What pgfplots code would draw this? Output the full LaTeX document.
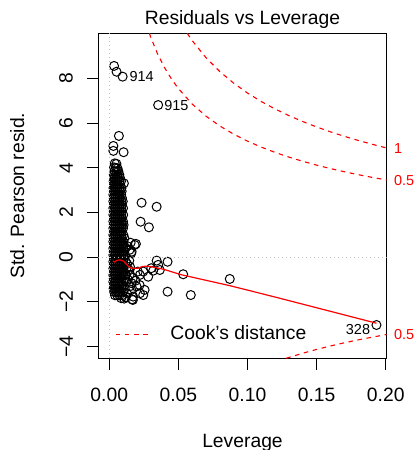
\documentclass[border=0pt]{standalone}
\usepackage{fontspec}
\setmainfont{Liberation Sans}
\usepackage{pgfplots}
\pgfplotsset{compat=1.18}
\usepackage{pgfplotstable}
\definecolor{rgray}{HTML}{BEBEBE}
\definecolor{rred}{HTML}{FF0000}

% standardized Pearson residuals vs leverage
\pgfplotstableread{
x y
0.0035 8.56
0.0053 8.30
0.0097 8.08
0.0354 6.81
0.0070 5.43
0.0030 4.98
0.0030 4.76
0.0104 4.70
0.0106 3.31
0.0087 3.09
0.0234 2.44
0.0343 2.26
0.0227 1.59
0.0287 1.34
0.0193 0.60
0.0155 0.65
0.0184 0.55
0.0147 0.33
0.0162 0.25
0.0159 0.18
0.0343 -0.15
0.0422 -0.20
0.0354 -0.34
0.0366 -0.57
0.0318 -0.60
0.0535 -0.76
0.0872 -0.97
0.0422 -1.54
0.0590 -1.69
0.0246 -1.69
0.0222 -1.61
0.0166 -1.88
0.1933 -3.03
0.0246 -0.64
0.0222 -0.79
0.0282 -0.87
0.0304 -0.49
0.0150 -0.42
0.0162 -1.16
0.0198 -1.31
0.0173 -1.76
0.0159 -1.46
0.0256 -1.46
0.0220 -1.24
0.0147 -0.79
0.0207 -0.64
0.0087 -1.83
0.0171 -1.91
0.0130 -0.30
0.0140 -0.55
0.0135 -1.00
0.0150 -1.30
0.0128 -1.60
0.0120 -1.78
0.0108 -1.85
0.0145 -0.15
0.0130 0.50
0.0172 -0.92
0.0190 -1.05
0.0040 4.20
0.0052 4.18
0.0035 4.02
0.0048 4.00
0.0060 3.98
0.0038 3.85
0.0052 3.85
0.0066 3.85
0.0033 3.70
0.0047 3.70
0.0061 3.70
0.0073 3.70
0.0036 3.55
0.0050 3.55
0.0064 3.55
0.0078 3.55
0.0032 3.40
0.0046 3.40
0.0060 3.40
0.0074 3.40
0.0085 3.40
0.0035 3.25
0.0049 3.25
0.0063 3.25
0.0077 3.25
0.0031 3.10
0.0045 3.10
0.0059 3.10
0.0073 3.10
0.0088 3.10
0.0034 2.95
0.0048 2.95
0.0062 2.95
0.0076 2.95
0.0090 2.95
0.0030 2.80
0.0044 2.80
0.0058 2.80
0.0072 2.80
0.0086 2.80
0.0033 2.65
0.0047 2.65
0.0061 2.65
0.0075 2.65
0.0092 2.65
0.0030 2.50
0.0044 2.50
0.0058 2.50
0.0072 2.50
0.0086 2.50
0.0098 2.50
0.0034 2.35
0.0048 2.35
0.0062 2.35
0.0076 2.35
0.0090 2.35
0.0030 2.20
0.0044 2.20
0.0058 2.20
0.0072 2.20
0.0086 2.20
0.0100 2.20
0.0033 2.05
0.0047 2.05
0.0061 2.05
0.0075 2.05
0.0089 2.05
0.0030 1.90
0.0044 1.90
0.0058 1.90
0.0072 1.90
0.0086 1.90
0.0101 1.90
0.0034 1.75
0.0048 1.75
0.0062 1.75
0.0076 1.75
0.0090 1.75
0.0030 1.60
0.0044 1.60
0.0058 1.60
0.0072 1.60
0.0086 1.60
0.0100 1.60
0.0033 1.45
0.0047 1.45
0.0061 1.45
0.0075 1.45
0.0089 1.45
0.0104 1.45
0.0030 1.30
0.0044 1.30
0.0058 1.30
0.0072 1.30
0.0086 1.30
0.0100 1.30
0.0034 1.15
0.0048 1.15
0.0062 1.15
0.0076 1.15
0.0090 1.15
0.0030 1.00
0.0044 1.00
0.0058 1.00
0.0072 1.00
0.0086 1.00
0.0102 1.00
0.0033 0.85
0.0047 0.85
0.0061 0.85
0.0075 0.85
0.0089 0.85
0.0110 0.85
0.0030 0.70
0.0044 0.70
0.0058 0.70
0.0072 0.70
0.0086 0.70
0.0100 0.70
0.0034 0.55
0.0048 0.55
0.0062 0.55
0.0076 0.55
0.0090 0.55
0.0106 0.55
0.0030 0.40
0.0044 0.40
0.0058 0.40
0.0072 0.40
0.0086 0.40
0.0100 0.40
0.0118 0.40
0.0033 0.25
0.0047 0.25
0.0061 0.25
0.0075 0.25
0.0089 0.25
0.0104 0.25
0.0030 0.10
0.0044 0.10
0.0058 0.10
0.0072 0.10
0.0086 0.10
0.0100 0.10
0.0115 0.10
0.0034 -0.05
0.0048 -0.05
0.0062 -0.05
0.0076 -0.05
0.0090 -0.05
0.0106 -0.05
0.0030 -0.20
0.0044 -0.20
0.0058 -0.20
0.0072 -0.20
0.0086 -0.20
0.0100 -0.20
0.0120 -0.20
0.0033 -0.35
0.0047 -0.35
0.0061 -0.35
0.0075 -0.35
0.0089 -0.35
0.0105 -0.35
0.0030 -0.50
0.0044 -0.50
0.0058 -0.50
0.0072 -0.50
0.0086 -0.50
0.0100 -0.50
0.0125 -0.50
0.0034 -0.65
0.0048 -0.65
0.0062 -0.65
0.0076 -0.65
0.0090 -0.65
0.0108 -0.65
0.0030 -0.80
0.0044 -0.80
0.0058 -0.80
0.0072 -0.80
0.0086 -0.80
0.0100 -0.80
0.0120 -0.80
0.0033 -0.95
0.0047 -0.95
0.0061 -0.95
0.0075 -0.95
0.0089 -0.95
0.0110 -0.95
0.0030 -1.10
0.0044 -1.10
0.0058 -1.10
0.0072 -1.10
0.0086 -1.10
0.0102 -1.10
0.0125 -1.10
0.0034 -1.25
0.0048 -1.25
0.0062 -1.25
0.0076 -1.25
0.0092 -1.25
0.0032 -1.40
0.0046 -1.40
0.0060 -1.40
0.0074 -1.40
0.0090 -1.40
0.0112 -1.40
0.0036 -1.55
0.0050 -1.55
0.0064 -1.55
0.0080 -1.55
0.0100 -1.55
0.0042 -1.70
0.0058 -1.70
0.0074 -1.70
0.0095 -1.70
}\respts

\begin{document}
\fontsize{9.65bp}{11bp}\selectfont
\begin{tikzpicture}
\begin{axis}[
  scale only axis,
  width=144.2bp, height=162.5bp,
  xmin=-0.0079, xmax=0.2007, ymin=-4.52, ymax=10.02,
  axis line style={line width=0.5bp},
  every tick/.style={black, line width=0.5bp},
  tick align=outside, major tick length=5.8bp,
  xtick pos=left, ytick pos=left,
  xtick={0,0.05,0.1,0.15,0.2},
  xticklabels={0.00,0.05,0.10,0.15,0.20},
  ytick={-4,-2,0,2,4,6,8},
  yticklabels={−4,−2,0,2,4,6,8},
  tick label style={inner sep=0pt},
  xticklabel style={anchor=north},
  xticklabel shift=9bp,
  yticklabel style={rotate=90, anchor=south},
  yticklabel shift=6.7bp,
  title={Residuals vs Leverage},
  every axis title/.style={at={(axis description cs:0.5,1)}, anchor=base, yshift=4.15bp, inner sep=0pt},
  xlabel={Leverage},
  xlabel style={at={(axis description cs:0.5,0)}, anchor=base, yshift=-44.35bp, inner sep=0pt},
  ylabel={Std. Pearson resid.},
  ylabel style={at={(axis description cs:-0.2576,0.5)}, rotate=0, anchor=base, inner sep=0pt},
  clip mode=individual,
  legend style={at={(axis description cs:0.0579,0.0738)}, anchor=west, draw=none, fill=none,
    inner sep=0pt, outer sep=0pt, column sep=9.65bp, nodes={inner sep=0pt}},
  legend cell align=left,
  legend image code/.code={\draw[#1] (0bp,0bp) -- (17.5bp,0bp);},
]
\addplot[only marks, mark=o, mark size=2.25bp, line width=0.5bp, black, forget plot] table[x=x,y=y] {\respts};
% smoother
\addplot[rred, line width=0.6bp, forget plot] coordinates {
(0.0027,-0.18) (0.0040,-0.21) (0.0050,-0.16) (0.0060,-0.13) (0.0080,-0.12) (0.0105,-0.18)
(0.0135,-0.38) (0.0160,-0.49) (0.0210,-0.49) (0.0240,-0.41) (0.0280,-0.40) (0.0330,-0.45)
(0.0400,-0.55) (0.0520,-0.78) (0.0872,-1.27) (0.1200,-1.78) (0.1933,-2.95)};
% reference lines
\addplot[rgray, line width=0.5bp, dash pattern=on 0.5bp off 1.5bp, forget plot] coordinates {(-0.0079,0) (0.2007,0)};
\addplot[rgray, line width=0.5bp, dash pattern=on 0.5bp off 1.5bp, forget plot] coordinates {(0,-4.52) (0,10.02)};
% Cook's distance 0.5
\addplot[rred, line width=0.55bp, dash pattern=on 2.3bp off 2.3bp] coordinates {
(0.029,10.02) (0.030,9.849) (0.035,9.095) (0.040,8.485) (0.045,7.979) (0.050,7.550)
(0.060,6.856) (0.070,6.313) (0.080,5.874) (0.090,5.508) (0.100,5.196) (0.110,4.927)
(0.120,4.690) (0.130,4.481) (0.140,4.293) (0.150,4.123) (0.160,3.969) (0.170,3.827)
(0.180,3.697) (0.190,3.576) (0.2007,3.456)};
\addlegendentry{Cook's distance}
% Cook's distance 1
\addplot[rred, line width=0.55bp, dash pattern=on 2.3bp off 2.3bp, forget plot] coordinates {
(0.0564,10.02) (0.060,9.695) (0.070,8.928) (0.080,8.307) (0.090,7.789) (0.100,7.348)
(0.110,6.967) (0.120,6.633) (0.130,6.337) (0.140,6.071) (0.150,5.831) (0.160,5.612)
(0.170,5.412) (0.180,5.228) (0.190,5.058) (0.2007,4.888)};
% Cook's distance -0.5
\addplot[rred, line width=0.55bp, dash pattern=on 2.3bp off 2.3bp, forget plot] coordinates {
(0.128,-4.52) (0.130,-4.481) (0.140,-4.293) (0.150,-4.123) (0.160,-3.969) (0.170,-3.827)
(0.180,-3.697) (0.190,-3.576) (0.2007,-3.456)};
% labels
\node[anchor=west, inner sep=0pt, xshift=3.3bp, font=\fontsize{7.24bp}{8.5bp}\selectfont] at (axis cs:0.0097,8.08) {914};
\node[anchor=west, inner sep=0pt, xshift=2.9bp, font=\fontsize{7.24bp}{8.5bp}\selectfont] at (axis cs:0.0354,6.81) {915};
\node[anchor=east, inner sep=0pt, xshift=-3bp, yshift=-2.1bp, font=\fontsize{7.24bp}{8.5bp}\selectfont] at (axis cs:0.1933,-3.03) {328};
\node[anchor=west, inner sep=0pt, xshift=3.5bp, text=rred, font=\fontsize{7.24bp}{8.5bp}\selectfont] at (axis cs:0.2007,4.86) {1};
\node[anchor=west, inner sep=0pt, xshift=3.5bp, text=rred, font=\fontsize{7.24bp}{8.5bp}\selectfont] at (axis cs:0.2007,3.43) {0.5};
\node[anchor=west, inner sep=0pt, xshift=3.5bp, text=rred, font=\fontsize{7.24bp}{8.5bp}\selectfont] at (axis cs:0.2007,-3.46) {0.5};
\end{axis}
\pgfresetboundingbox
\path[use as bounding box] (-49.15bp,-45.85bp) rectangle (158.35bp,179.15bp);
\end{tikzpicture}
\end{document}
